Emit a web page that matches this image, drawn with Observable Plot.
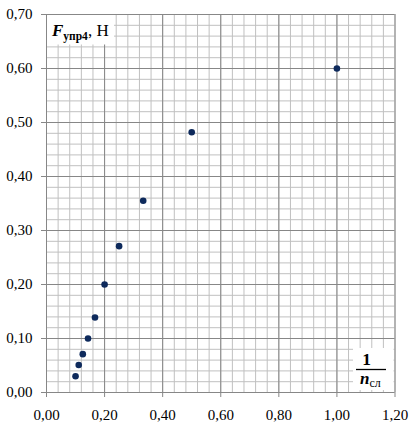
<!DOCTYPE html>
<html><head><meta charset="utf-8">
<script src="https://cdn.jsdelivr.net/npm/d3@7"></script>
<script src="https://cdn.jsdelivr.net/npm/@observablehq/plot@0.6"></script>
<style>
body{margin:0;background:#fff}
#wrap{width:413px;height:429px}
</style></head><body><div id="wrap"></div>
<script>
// 1/n_сл values and spring force F_упр4, Н
const invN = [1.000, 0.500, 0.333, 0.250, 0.200, 0.167, 0.143, 0.125, 0.111, 0.100];
const force = [0.600, 0.482, 0.355, 0.271, 0.200, 0.139, 0.100, 0.071, 0.051, 0.030];
const xTicks = [0, 0.2, 0.4, 0.6, 0.8, 1.0, 1.2];
const yTicks = [0, 0.1, 0.2, 0.3, 0.4, 0.5, 0.6, 0.7];
const xMinor = d3.range(0, 1.2001, 0.04);
const yMinor = d3.range(0, 0.7001, 0.02);

const data = invN.map((x, i) => ({x, y: force[i]}));
const fmt = d => d.toFixed(2).replace(".", ",");
const serif = "Liberation Serif";

const chart = Plot.plot({
  width: 413, height: 429,
  marginTop: 14, marginBottom: 37, marginLeft: 46, marginRight: 18.5,
  style: {fontFamily: serif, fontSize: "15px", color: "#000", background: "#fff"},
  x: {domain: [0, 1.2]},
  y: {domain: [0, 0.7]},
  marks: [
    Plot.ruleX(xMinor, {stroke: "#c0c0c0", strokeOpacity: 1}),
    Plot.ruleY(yMinor, {stroke: "#c0c0c0", strokeOpacity: 1}),
    Plot.ruleX(xTicks, {stroke: "#878787", strokeOpacity: 1}),
    Plot.ruleY(yTicks, {stroke: "#878787", strokeOpacity: 1}),
    Plot.axisX(xTicks, {tickFormat: fmt, tickSize: 5, tickPadding: 12, stroke: "#878787", strokeOpacity: 1, fill: "#000", label: null, fontSize: 15}),
    Plot.axisY(yTicks, {tickFormat: fmt, tickSize: 5, tickPadding: 9, stroke: "#878787", strokeOpacity: 1, fill: "#000", label: null, fontSize: 15}),
    Plot.dot(data, {x: "x", y: "y", r: 3.3, fill: "#0e2a5c", stroke: null})
  ]
});
document.getElementById("wrap").appendChild(chart);

const svg = d3.select(chart);
// title box
svg.append("rect").attr("x", 47).attr("y", 15).attr("width", 67).attr("height", 29.5).attr("fill", "#fff");
const t = svg.append("text").attr("x", 52).attr("y", 35.7).attr("text-anchor", "start")
  .attr("font-family", serif).attr("font-size", 17).attr("fill", "#000");
t.append("tspan").attr("font-weight", "bold").attr("font-style", "italic").text("F");
t.append("tspan").attr("font-weight", "bold").attr("font-size", 11.5).attr("dy", 4).text("упр4");
t.append("tspan").attr("dy", -4).text(", Н");

// x-axis label box (fraction)
svg.append("rect").attr("x", 353).attr("y", 348).attr("width", 40.5).attr("height", 42).attr("fill", "#fff");
svg.append("text").attr("x", 366.5).attr("y", 365).attr("text-anchor", "middle").attr("font-family", serif)
  .attr("font-size", 17.5).attr("font-weight", "bold").attr("fill", "#000").text("1");
svg.append("line").attr("x1", 356).attr("x2", 386).attr("y1", 369.5).attr("y2", 369.5).attr("stroke", "#000").attr("stroke-width", 1.3);
const n = svg.append("text").attr("x", 360).attr("y", 384).attr("text-anchor", "start")
  .attr("font-family", serif).attr("font-size", 17).attr("fill", "#000");
n.append("tspan").attr("font-weight", "bold").attr("font-style", "italic").text("n");
n.append("tspan").attr("font-size", 12).attr("dy", 2.5).text("сл");
</script></body></html>
